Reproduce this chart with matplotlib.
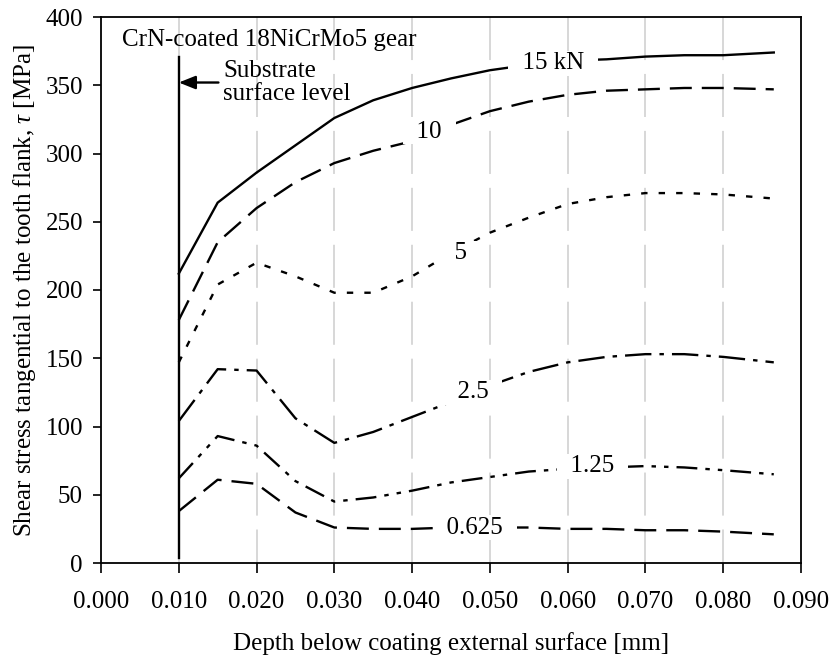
import matplotlib
matplotlib.use("Agg")
import matplotlib.pyplot as plt
from matplotlib.ticker import FormatStrFormatter

plt.rcParams["font.family"] = ["Liberation Serif", "DejaVu Serif"]
plt.rcParams["mathtext.fontset"] = "custom"
plt.rcParams["mathtext.rm"] = "Liberation Serif"
plt.rcParams["mathtext.it"] = "Liberation Serif:italic"
plt.rcParams["lines.scale_dashes"] = False

# Depth below the coating external surface [mm]
depth = [0.010, 0.015, 0.020, 0.025, 0.030, 0.035, 0.040, 0.045,
         0.050, 0.055, 0.060, 0.065, 0.070, 0.075, 0.080, 0.0865]

# Shear stress tangential to the tooth flank [MPa], one curve per normal load
tau_15 = [212, 264, 286, 306, 326, 339, 348, 355, 361, 365, 368, 369, 371, 372, 372, 374]
tau_10 = [178, 235, 260, 279, 293, 302, 309, 321, 331, 338, 343, 346, 347, 348, 348, 347]
tau_5 = [147, 204, 220, 210, 198, 198, 210, 227, 242, 253, 263, 268, 271, 271, 270, 267]
tau_2_5 = [104, 142, 141, 106, 88, 96, 107, 118, 130, 140, 147, 151, 153, 153, 151, 147]
tau_1_25 = [62, 93, 86, 60, 45, 48, 53, 59, 63, 67, 69, 70, 71, 70, 68, 65]
tau_0_625 = [38, 61, 58, 37, 26, 25, 25, 26, 26, 26, 25, 25, 24, 24, 23, 21]

load_labels = ["15 kN", "10", "5", "2.5", "1.25", "0.625"]
label_depth = [0.0581, 0.0422, 0.0462, 0.0478, 0.0632, 0.0481]
label_tau = [366, 316, 227, 125, 71, 26]

substrate_depth = 0.010
substrate_span = (4, 371)

x_ticks = [0.00, 0.01, 0.02, 0.03, 0.04, 0.05, 0.06, 0.07, 0.08, 0.09]
y_ticks = [0, 50, 100, 150, 200, 250, 300, 350, 400]

curves = [tau_15, tau_10, tau_5, tau_2_5, tau_1_25, tau_0_625]
styles = [
    None,                                        # solid
    (0, (15.8, 7.2)),                            # long dash
    (0, (4.6, 8.0)),                             # square dots
    (0, (19.0, 5.8, 3.2, 5.8)),                  # dash-dot
    (0, (15.0, 5.8, 3.2, 5.8, 3.2, 5.8)),        # dash-dot-dot
    (0, (15.8, 7.2)),                            # long dash
]

FS = 18

fig = plt.figure(figsize=(8.33, 6.55), dpi=100)
ax = fig.add_axes([101 / 833, 1 - 563 / 655, 700 / 833, 546 / 655])

# light dashed vertical gridlines, drawn from the top down
for xt in x_ticks[1:-1]:
    ax.axvline(xt, 1, 0, color="#d4d4d4", lw=1.3, dashes=(31, 10), zorder=0)

for vals, ls in zip(curves, styles):
    if ls is None:
        ax.plot(depth, vals, color="black", lw=1.7, solid_joinstyle="miter", zorder=2)
    else:
        ax.plot(depth, vals, color="black", lw=1.7, linestyle=ls, zorder=2)

for txt, lx, ly in zip(load_labels, label_depth, label_tau):
    ax.text(lx, ly, "  " + txt + "  ", ha="center", va="center", fontsize=FS,
            zorder=3, bbox=dict(facecolor="white", edgecolor="none", pad=1))

# substrate surface marker
ax.plot([substrate_depth, substrate_depth], substrate_span, color="black", lw=1.7, zorder=2)
ax.annotate("", xy=(substrate_depth, 352), xytext=(0.0151, 352),
            arrowprops=dict(arrowstyle="-|>,head_length=1.0,head_width=0.4",
                            color="black", lw=1.7, shrinkA=0, shrinkB=0))
ax.text(0.0157, 352, "Substrate\nsurface level", ha="left", va="center",
        fontsize=FS, linespacing=1.08)
ax.text(0.0027, 383, "CrN-coated 18NiCrMo5 gear", ha="left", va="center", fontsize=FS)

ax.set_xlim(0, 0.09)
ax.set_ylim(0, 400)
ax.set_xticks(x_ticks)
ax.set_yticks(y_ticks)
ax.xaxis.set_major_formatter(FormatStrFormatter("%.3f"))
ax.tick_params(axis="both", direction="out", labelsize=FS, width=1.2, color="black")
ax.tick_params(axis="x", length=7, pad=13)
ax.tick_params(axis="y", length=6, pad=7)
for sp in ax.spines.values():
    sp.set_linewidth(1.3)
    sp.set_color("black")

ax.set_xlabel("Depth below coating external surface [mm]", fontsize=FS, labelpad=14)
ax.set_ylabel(r"Shear stress tangential to the tooth flank, $\tau$ [MPa]", fontsize=FS, labelpad=5)

fig.savefig("out.png", dpi=100)
